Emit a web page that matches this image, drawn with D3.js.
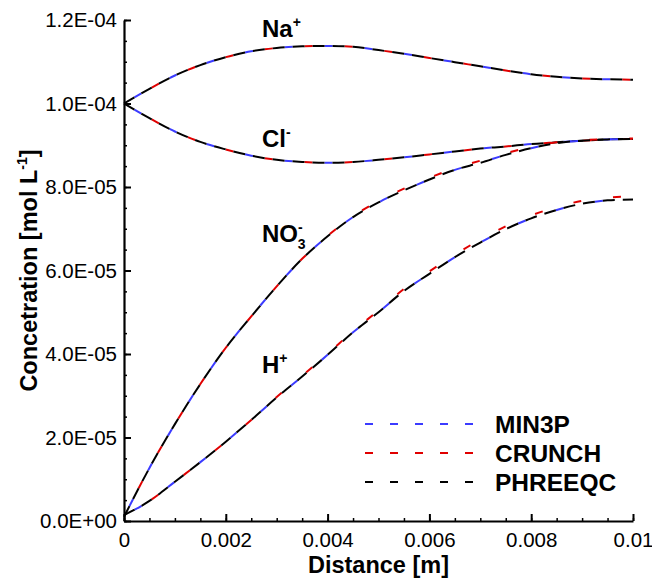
<!DOCTYPE html>
<html>
<head>
<meta charset="utf-8">
<script src="https://cdn.jsdelivr.net/npm/d3@7"></script>
<style>
  body { margin: 0; background: #fff; }
  text { font-family: "Liberation Sans", Arial, sans-serif; }
</style>
</head>
<body>
<script>
// distance along column [m]
var distance = [0, 0.0005, 0.001, 0.0015, 0.002, 0.0025, 0.003, 0.0035, 0.004, 0.0045, 0.005,
                0.0055, 0.006, 0.0065, 0.007, 0.0075, 0.008, 0.0085, 0.009, 0.0095, 0.01];

// concentrations [mol/L]
var na  = [1.000e-4, 1.035e-4, 1.067e-4, 1.092e-4, 1.111e-4, 1.125e-4, 1.133e-4, 1.137e-4, 1.138e-4, 1.136e-4, 1.128e-4,
           1.119e-4, 1.109e-4, 1.099e-4, 1.089e-4, 1.079e-4, 1.070e-4, 1.064e-4, 1.060e-4, 1.058e-4, 1.057e-4];
var cl  = [1.000e-4, 9.65e-5, 9.33e-5, 9.08e-5, 8.90e-5, 8.75e-5, 8.65e-5, 8.60e-5, 8.58e-5, 8.60e-5, 8.65e-5,
           8.71e-5, 8.78e-5, 8.85e-5, 8.92e-5, 8.97e-5, 9.03e-5, 9.07e-5, 9.11e-5, 9.14e-5, 9.15e-5];
var no3 = [1.0e-6, 1.27e-5, 2.32e-5, 3.28e-5, 4.15e-5, 4.90e-5, 5.62e-5, 6.28e-5, 6.82e-5, 7.28e-5, 7.63e-5,
           7.92e-5, 8.18e-5, 8.41e-5, 8.58e-5, 8.77e-5, 8.93e-5, 9.05e-5, 9.11e-5, 9.14e-5, 9.15e-5];
var h   = [1.4e-6, 4.8e-6, 9.4e-6, 1.41e-5, 1.90e-5, 2.42e-5, 2.96e-5, 3.46e-5, 3.98e-5, 4.52e-5, 5.00e-5,
           5.51e-5, 5.92e-5, 6.32e-5, 6.67e-5, 6.99e-5, 7.25e-5, 7.45e-5, 7.60e-5, 7.68e-5, 7.70e-5];
// crunch sits a hair higher near the outlet
var no3Crunch = [1.0e-6, 1.27e-5, 2.32e-5, 3.28e-5, 4.15e-5, 4.90e-5, 5.62e-5, 6.28e-5, 6.83e-5, 7.30e-5, 7.66e-5,
           7.96e-5, 8.22e-5, 8.45e-5, 8.63e-5, 8.81e-5, 8.96e-5, 9.07e-5, 9.12e-5, 9.15e-5, 9.16e-5];
var hCrunch = [1.4e-6, 4.8e-6, 9.4e-6, 1.41e-5, 1.90e-5, 2.42e-5, 2.97e-5, 3.48e-5, 4.00e-5, 4.55e-5, 5.04e-5,
           5.56e-5, 5.98e-5, 6.38e-5, 6.74e-5, 7.06e-5, 7.32e-5, 7.52e-5, 7.67e-5, 7.75e-5, 7.77e-5];

var models = ["MIN3P", "CRUNCH", "PHREEQC"];
var colors = ["#3b3bff", "#e00000", "#000000"];
var xTicks = [0, 0.002, 0.004, 0.006, 0.008, 0.01];
var yTicks = [0, 2e-5, 4e-5, 6e-5, 8e-5, 1e-4, 1.2e-4];

var W = 652, H = 580;
var svg = d3.select("body").append("svg").attr("width", W).attr("height", H);

var x = d3.scaleLinear().domain([0, 0.01]).range([124, 633]);
var y = d3.scaleLinear().domain([0, 1.2e-4]).range([521, 20]);

var sciFmt = function(d){
    var s = d.toExponential(1).toUpperCase();   // 1.2E-4
    var m = s.split("E");
    var e = parseInt(m[1]);
    var sign = e < 0 ? "-" : "+";
    var ee = Math.abs(e);
    return m[0] + "E" + sign + (ee < 10 ? "0" + ee : ee);
};

// minor ticks
svg.append("g").attr("transform", "translate(124,0)")
   .call(d3.axisLeft(y).tickValues(d3.range(0, 1.2e-4 + 1e-9, 5e-6)).tickSize(-3).tickFormat(""))
   .call(function(g){ g.select(".domain").remove(); g.selectAll("line").attr("stroke-width", 1.5); });
svg.append("g").attr("transform", "translate(0,521)")
   .call(d3.axisBottom(x).tickValues(d3.range(0, 0.01 + 1e-9, 0.0005)).tickSize(-3).tickFormat(""))
   .call(function(g){ g.select(".domain").remove(); g.selectAll("line").attr("stroke-width", 1.5); });

// major axes
var yAxis = svg.append("g").attr("transform", "translate(124,0)")
   .call(d3.axisLeft(y).tickValues(yTicks).tickSize(-7).tickSizeOuter(0).tickPadding(7).tickFormat(sciFmt));
var xAxis = svg.append("g").attr("transform", "translate(0,521)")
   .call(d3.axisBottom(x).tickValues(xTicks).tickSize(-7).tickSizeOuter(0).tickPadding(8).tickFormat(d3.format("")));
[yAxis, xAxis].forEach(function(g){
    g.select(".domain").attr("stroke-width", 2.2);
    g.selectAll(".tick line").attr("stroke-width", 2);
    g.selectAll("text").attr("font-size", 20.5).attr("fill", "#000")
     .style("font-family", "'Liberation Sans', Arial, sans-serif");
});
xAxis.selectAll("text").attr("dy", "0.9em");

// curves
var line = d3.line()
    .x(function(d){ return x(d[0]); })
    .y(function(d){ return y(d[1]); })
    .curve(d3.curveMonotoneX);

var species = [
    {name: "Na", vals: [na, na, na]},
    {name: "Cl", vals: [cl, cl, cl]},
    {name: "NO3", vals: [no3, no3Crunch, no3]},
    {name: "H", vals: [h, hCrunch, h]}
];
var dash = [{a: "8,32", o: -12}, {a: "8,32", o: -32}, {a: "12,8", o: 0}];

var gLines = svg.append("g");
species.forEach(function(sp){
    models.forEach(function(m, i){
        var pts = distance.map(function(d, k){ return [d, sp.vals[i][k]]; });
        gLines.append("path")
            .attr("d", line(pts))
            .attr("fill", "none")
            .attr("stroke", colors[i])
            .attr("stroke-width", 2)
            .attr("stroke-dasharray", dash[i].a)
            .attr("stroke-dashoffset", dash[i].o);
    });
});

// species labels
var lab = svg.append("g").attr("font-weight", "bold").attr("font-size", 24);
var t;
t = lab.append("text").attr("x", 262).attr("y", 37).text("Na");
t.append("tspan").attr("font-size", 14).attr("dy", -10).text("+");
t = lab.append("text").attr("x", 262).attr("y", 147).text("Cl");
t.append("tspan").attr("font-size", 14).attr("dy", -10).text("-");
t = lab.append("text").attr("x", 262).attr("y", 242).text("NO");
t.append("tspan").attr("font-size", 14).attr("dy", -10).text("-");
t.append("tspan").attr("font-size", 14).attr("dx", -5).attr("dy", 17).text("3");
t = lab.append("text").attr("x", 262).attr("y", 373).text("H");
t.append("tspan").attr("font-size", 14).attr("dy", -10).text("+");

// axis titles
svg.append("text").attr("x", 378.5).attr("y", 573).attr("text-anchor", "middle")
   .attr("font-weight", "bold").attr("font-size", 23.5).text("Distance [m]");
var yt = svg.append("text").attr("transform", "translate(37,270.5) rotate(-90)")
   .attr("text-anchor", "middle").attr("font-weight", "bold").attr("font-size", 23.5);
yt.append("tspan").text("Concetration [mol L");
yt.append("tspan").attr("font-size", 14).attr("dy", -10).text("-1");
yt.append("tspan").attr("dy", 10).text("]");

// legend
var leg = svg.append("g");
models.forEach(function(m, i){
    var ly = 424 + i * 29;
    leg.append("line").attr("x1", 365).attr("x2", 475).attr("y1", ly).attr("y2", ly)
       .attr("stroke", colors[i]).attr("stroke-width", 2.2).attr("stroke-dasharray", "8,17");
    leg.append("text").attr("x", 495).attr("y", ly + 8.5).attr("font-weight", "bold")
       .attr("font-size", 24.5).text(m);
});
</script>
</body>
</html>
